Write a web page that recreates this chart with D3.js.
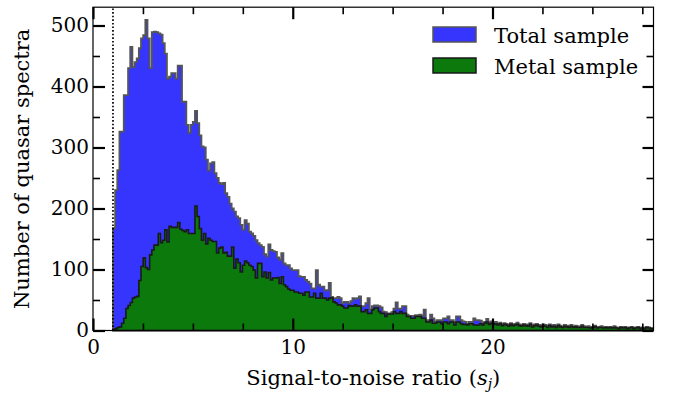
<!DOCTYPE html>
<html><head><meta charset="utf-8">
<script src="https://cdn.jsdelivr.net/npm/d3@7"></script>
<style>
body{margin:0;background:#fff}
svg{display:block}
text{font-family:"DejaVu Serif",serif;fill:#000}
</style>
</head><body>
<svg id="chart" width="673" height="394"></svg>
<script>
// ---- data ----
const binStart = 1.0;
const binWidth = 0.108;
const totalCounts = [
168,230,263,326,326,386,386,430,465,432,440,446,463,479,484,509,479,430,489,490,
489,487,485,471,454,413,416,422,422,413,434,434,375,375,337,324,337,342,360,340,
320,302,300,280,262,274,276,258,
250,242,240,242,225,219,208,200,195,187,184,173,165,181,175,162,159,155,148,143,
140,137,125,121,141,132,130,129,120,116,127,110,107,107,
102,99,99,99,89,88,88,83,80,77,
69,69,99,75,72,72,66,66,78,55,
53,53,55,53,45,47,47,45,48,53,
52,53,56,40,40,45,53,34,40,41,
41,40,38,31,30,28,28,30,36,46,
36,36,40,40,26,24,24,24,25,25,
26,24,34,16,17,26,20,14,17,17,
17,20,20,23,17,17,12,23,23,17,
15,14,11,14,14,20,17,17,
16,12,14,19,13,15,12,14,11,13,
10,12,11,9,12,10,11,13,10,9,
11,10,9,12,8,10,11,9,8,10,
9,7,10,8,9,7,10,8,6,9,
8,7,9,6,8,7,6,9,7,6,
7,5,6,8,5,6,7,5,6,5,
6,5,7,5,4,6,5,6,4,5,
6,4,5,6,4,5,4,6,5,4
];
const metalCounts = [
2,3,5,6,12,20,36,41,46,53,55,56,82,105,119,103,100,124,132,140,
140,159,144,148,165,145,171,169,169,169,177,166,164,162,165,159,159,159,204,187,
167,148,159,142,151,148,146,146,
127,135,137,127,128,122,122,137,102,117,111,96,107,114,111,107,105,99,86,110,
110,88,96,86,95,83,86,86,87,77,88,75,72,68,
66,66,63,63,61,61,58,63,63,55,
55,61,53,53,61,53,53,50,53,53,
47,45,42,42,40,37,37,41,40,40,
42,40,40,31,31,34,28,28,34,37,
37,31,28,28,23,27,27,27,31,28,
28,31,28,28,23,23,20,20,23,23,
23,20,20,14,14,17,12,12,14,14,
11,14,14,11,14,14,9,14,14,11,
10,10,9,11,11,9,9,9,
11,9,12,14,10,12,10,11,9,11,
8,10,9,7,10,8,9,10,8,7,
9,8,7,10,6,8,9,7,6,8,
7,5,8,6,7,5,8,6,5,7,
6,5,7,5,6,5,5,7,5,5,
5,4,5,6,4,5,5,4,5,4,
5,4,5,4,3,5,4,5,3,4,
5,3,4,5,3,4,3,5,4,3
];
const seriesNames = ["Total sample", "Metal sample"];
const xMajorTicks = [0, 10, 20];
const xMinorTicks = [2.5, 5, 7.5, 12.5, 15, 17.5, 22.5, 25, 27.5];
const yMajorTicks = [0, 100, 200, 300, 400, 500];
const yMinorTicks = [50, 150, 250, 350, 450];
const snrCut = 1.0;
const xMax = 28.06, yMax = 530;

// ---- styles ----
const fillTotal = "#3535fd", edgeTotal = "#555555";
const fillMetal = "#0b790b", edgeMetal = "#1a1a1a";

const svg = d3.select("#chart");
const L = 93, R = 653.5, T = 7.2, B = 330.5;
const x = d3.scaleLinear().domain([0, xMax]).range([L, R]);
const y = d3.scaleLinear().domain([0, yMax]).range([B, T]);

function histPoints(counts) {
  const pts = [[binStart, 0]];
  counts.forEach((c, i) => pts.push([binStart + i * binWidth, c]));
  pts.push([binStart + counts.length * binWidth, 0]);
  return pts;
}
const line = d3.line().x(d => x(d[0])).y(d => y(d[1])).curve(d3.curveStepAfter);

svg.append("path").attr("d", line(histPoints(totalCounts)) + "Z")
  .attr("fill", fillTotal).attr("stroke", edgeTotal).attr("stroke-width", 1.8)
  .attr("stroke-linejoin", "miter");
svg.append("path").attr("d", line(histPoints(metalCounts)) + "Z")
  .attr("fill", fillMetal).attr("stroke", edgeMetal).attr("stroke-width", 1.6)
  .attr("stroke-linejoin", "miter");

// dotted cut line
svg.append("line").attr("x1", x(snrCut)).attr("x2", x(snrCut))
  .attr("y1", y(0)).attr("y2", y(yMax))
  .attr("stroke", "#000").attr("stroke-width", 1.7).attr("stroke-dasharray", "1.6,2");

// frame
svg.append("rect").attr("x", L).attr("y", T).attr("width", R - L).attr("height", B - T)
  .attr("fill", "none").attr("stroke", "#000").attr("stroke-width", 1.2);

function styleAxis(g, w) {
  g.select(".domain").remove();
  g.selectAll(".tick line").attr("stroke", "#000").attr("stroke-width", w);
  g.selectAll("text").style("font-family", '"DejaVu Serif", serif').style("font-size", "20px").attr("fill", "#000");
}
// bottom
svg.append("g").attr("transform", `translate(0,${B})`)
  .call(d3.axisBottom(x).tickValues(xMajorTicks).tickSize(-12).tickPadding(9).tickFormat(d3.format("d")))
  .call(g => styleAxis(g, 2.2));
svg.append("g").attr("transform", `translate(0,${B})`)
  .call(d3.axisBottom(x).tickValues(xMinorTicks).tickSize(-7).tickFormat(""))
  .call(g => styleAxis(g, 1.6));
// top
svg.append("g").attr("transform", `translate(0,${T})`)
  .call(d3.axisTop(x).tickValues(xMajorTicks).tickSize(-12).tickFormat(""))
  .call(g => styleAxis(g, 2.2));
svg.append("g").attr("transform", `translate(0,${T})`)
  .call(d3.axisTop(x).tickValues(xMinorTicks).tickSize(-7).tickFormat(""))
  .call(g => styleAxis(g, 1.6));
// left
svg.append("g").attr("transform", `translate(${L},0)`)
  .call(d3.axisLeft(y).tickValues(yMajorTicks).tickSize(-12).tickPadding(4).tickFormat(d3.format("d")))
  .call(g => styleAxis(g, 2.2));
svg.append("g").attr("transform", `translate(${L},0)`)
  .call(d3.axisLeft(y).tickValues(yMinorTicks).tickSize(-7).tickFormat(""))
  .call(g => styleAxis(g, 1.6));
// right
svg.append("g").attr("transform", `translate(${R},0)`)
  .call(d3.axisRight(y).tickValues(yMajorTicks).tickSize(-11).tickFormat(""))
  .call(g => styleAxis(g, 2.2));
svg.append("g").attr("transform", `translate(${R},0)`)
  .call(d3.axisRight(y).tickValues(yMinorTicks).tickSize(-7).tickFormat(""))
  .call(g => styleAxis(g, 1.6));

// axis labels
svg.append("text").attr("transform", `translate(29,${(T + B) / 2}) rotate(-90)`)
  .attr("text-anchor", "middle").style("font-size", "21px").text("Number of quasar spectra");
const xl = svg.append("text").attr("x", (L + R) / 2).attr("y", 385)
  .attr("text-anchor", "middle").style("font-size", "21px");
xl.append("tspan").text("Signal-to-noise ratio (");
xl.append("tspan").style("font-style", "italic").text("s");
xl.append("tspan").style("font-style", "italic").style("font-size", "14px").attr("dy", 4).text("j");
xl.append("tspan").attr("dy", -4).text(")");

// legend
const legend = svg.append("g");
const legItems = [
  {name: seriesNames[0], fill: fillTotal, edge: edgeTotal},
  {name: seriesNames[1], fill: fillMetal, edge: edgeMetal}
];
legItems.forEach((d, i) => {
  const yy = 27 + i * 31;
  legend.append("rect").attr("x", 433).attr("y", yy).attr("width", 43).attr("height", 15)
    .attr("fill", d.fill).attr("stroke", d.edge).attr("stroke-width", 1.5);
  legend.append("text").attr("x", 494).attr("y", yy + 15.5).style("font-size", "21px").text(d.name);
});
</script>
</body></html>
